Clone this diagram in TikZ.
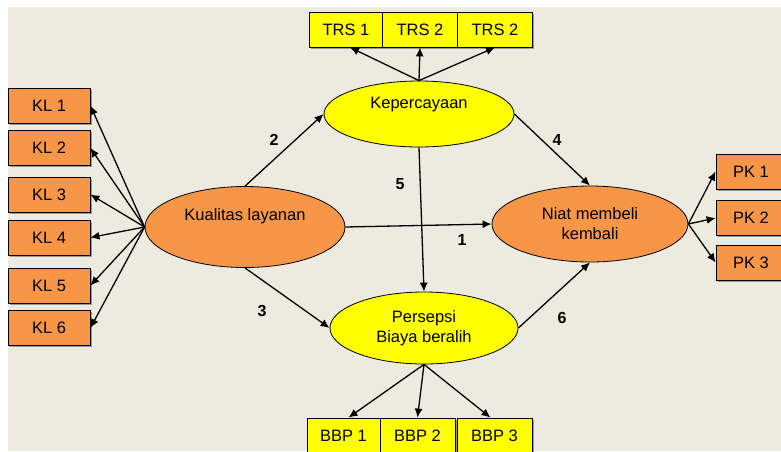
\documentclass[tikz,border=0pt]{standalone}
\usepackage{fontspec}
\setmainfont{Liberation Sans}
\usetikzlibrary{arrows.meta,shapes.geometric,shadows}
\definecolor{bgbeige}{HTML}{EDEAE0}
\definecolor{korange}{HTML}{F79646}
\definecolor{kyellow}{HTML}{FFFF00}

\begin{document}
\begin{tikzpicture}[x=1pt,y=-1pt,
  every node/.style={font=\fontsize{16.5}{20}\selectfont},
  indbox/.style={draw,line width=0.8pt,inner sep=0pt,minimum height=35pt,
    drop shadow={shadow xshift=1.5pt,shadow yshift=-1.5pt,fill=gray!80,opacity=1}},
  latent/.style={ellipse,draw,line width=0.8pt,inner sep=0pt,align=center},
  path/.style={line width=1.3pt,-{Latex[length=9pt,width=8pt]}},
  coef/.style={font=\bfseries\fontsize{16}{19}\selectfont}]
  \useasboundingbox (0,0) rectangle (781,451);
  \fill[white] (0,0) rectangle (781,451);
  \fill[bgbeige] (8,7) rectangle (781,451);

  % latent variables
  \node[latent,fill=korange,minimum width=200pt,minimum height=81pt] (kual) at (245,227) {Kualitas layanan\\[4pt]};
  \node[latent,fill=kyellow,minimum width=190pt,minimum height=66pt] (kep) at (419,114) {Kepercayaan\\[2pt]};
  \node[latent,fill=korange,minimum width=196pt,minimum height=76pt] (niat) at (590,224) {Niat membeli\\kembali};
  \node[latent,fill=kyellow,minimum width=188pt,minimum height=72pt] (pers) at (424,328) {Persepsi\\Biaya beralih};

  % indicators
  \node[indbox,fill=korange,minimum width=82pt] (kl1) at (49,105.5) {KL 1};
  \node[indbox,fill=korange,minimum width=82pt] (kl2) at (49,148) {KL 2};
  \node[indbox,fill=korange,minimum width=82pt] (kl3) at (49,194.5) {KL 3};
  \node[indbox,fill=korange,minimum width=82pt] (kl4) at (49,237.5) {KL 4};
  \node[indbox,fill=korange,minimum width=82pt] (kl5) at (49,285.5) {KL 5};
  \node[indbox,fill=korange,minimum width=82pt] (kl6) at (49,328) {KL 6};

  \node[indbox,fill=kyellow,minimum width=73pt] (trs1) at (346,29.5) {TRS 1};
  \node[indbox,fill=kyellow,minimum width=75pt] (trs2) at (420,29.5) {TRS 2};
  \node[indbox,fill=kyellow,minimum width=75pt] (trs3) at (495,29.5) {TRS 2};

  \node[indbox,fill=kyellow,minimum width=73pt] (bbp1) at (343.5,435.5) {BBP 1};
  \node[indbox,fill=kyellow,minimum width=75pt] (bbp2) at (417.5,435.5) {BBP 2};
  \node[indbox,fill=kyellow,minimum width=75pt] (bbp3) at (494.5,435.5) {BBP 3};

  \node[indbox,fill=korange,minimum width=70pt] (pk1) at (751,171.5) {PK 1};
  \node[indbox,fill=korange,minimum width=70pt] (pk2) at (751,218) {PK 2};
  \node[indbox,fill=korange,minimum width=70pt] (pk3) at (751,262.5) {PK 3};

  % measurement arrows
  \draw[path] (kual.west) -- (kl1.east);
  \draw[path] (kual.west) -- (kl2.east);
  \draw[path] (kual.west) -- (kl3.east);
  \draw[path] (kual.west) -- (kl4.east);
  \draw[path] (kual.west) -- (kl5.east);
  \draw[path] (kual.west) -- (kl6.east);
  \draw[path] (kep.north) -- ([xshift=4pt]trs1.south);
  \draw[path] (kep.north) -- (trs2.south);
  \draw[path] (kep.north) -- (trs3.south);
  \draw[path] (pers.south) -- ([xshift=5pt]bbp1.north);
  \draw[path] (pers.south) -- (bbp2.north);
  \draw[path] (pers.south) -- ([xshift=-4pt]bbp3.north);
  \draw[path] (niat.east) -- (pk1.west);
  \draw[path] (niat.east) -- (pk2.west);
  \draw[path] (niat.east) -- (pk3.west);

  % structural paths
  \draw[path] (kual.north) -- (kep.west);
  \draw[path] (kual.south) -- (pers.west);
  \draw[path] (kual.east) -- (niat.west);
  \draw[path] (kep.south) -- (pers.north);
  \draw[path] (kep.east) -- (niat.north);
  \draw[path] (pers.east) -- (niat.south);

  \node[coef] (c1) at (462,240) {1};
  \node[coef] (c2) at (274,140) {2};
  \node[coef] (c3) at (262,311) {3};
  \node[coef] (c4) at (557,140) {4};
  \node[coef] (c5) at (400,184) {5};
  \node[coef] (c6) at (562,318) {6};
\end{tikzpicture}
\end{document}
